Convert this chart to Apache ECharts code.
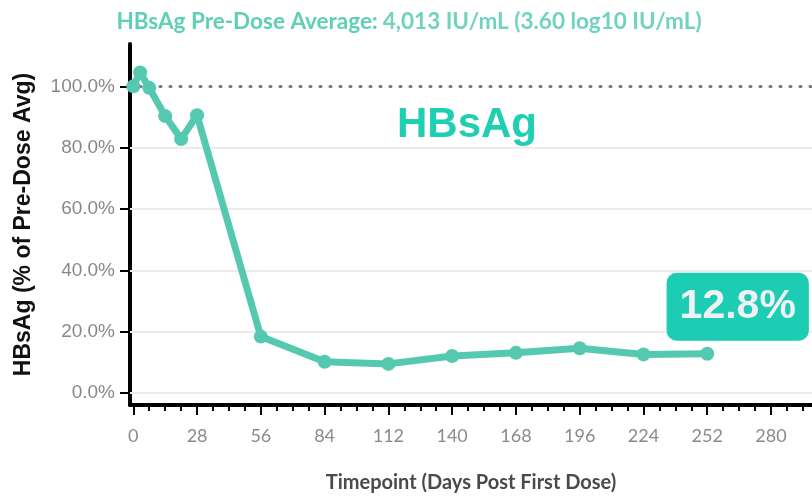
<!DOCTYPE html>
<html>
<head>
<meta charset="utf-8">
<script src="https://cdn.jsdelivr.net/npm/echarts@6/dist/echarts.min.js"></script>
<style>html,body{margin:0;padding:0;background:#fff}#c{width:812px;height:501px}</style>
</head>
<body>
<div id="c"></div>
<script>
// ---- data ----
var days = [0, 3, 7, 14, 21, 28, 56, 84, 112, 140, 168, 196, 224, 252];
var pctOfPreDose = [100, 104.5, 99.5, 90.3, 82.8, 90.6, 18.4, 10.2, 9.5, 12.1, 13.1, 14.6, 12.6, 12.8];
var xMajorTicks = [0, 28, 56, 84, 112, 140, 168, 196, 224, 252, 280];
var xMinorTicks = [7, 14, 21, 35, 42, 49, 63, 70, 77, 91, 98, 105, 119, 126, 133, 147, 154, 161, 175, 182, 189, 203, 210, 217, 231, 238, 245, 259, 266, 273, 287, 294];
var yTicks = [0, 20, 40, 60, 80, 100];
var gridValues = [0, 20, 40, 60, 80];
var baselineValue = 100;
var titleBold = 'HBsAg Pre-Dose Average:';
var titleRest = '4,013 IU/mL (3.60 log10 IU/mL)';
var seriesName = 'HBsAg';

var lineData = days.map(function (d, i) { return [d, pctOfPreDose[i]]; });
var lastIdx = days.length - 1;

var chart = echarts.init(document.getElementById('c'), null, { renderer: 'canvas' });
var teal = '#55c9b0';
var option = {
  animation: false,
  backgroundColor: '#fff',
  title: {
    text: '{b|' + titleBold + '} {n|' + titleRest + '}',
    left: 404, top: 5, textAlign: 'center',
    textStyle: {
      rich: {
        b: { fontFamily: 'Lato, Liberation Sans, sans-serif', fontWeight: 'bold', fontSize: 22.5, color: '#5fcfb6' },
        n: { fontFamily: 'Lato, Liberation Sans, sans-serif', fontSize: 22.5, color: '#6fd3bf' }
      }
    }
  },
  graphic: [{
    type: 'text', left: 397, top: 104,
    style: { text: seriesName, font: 'bold 42px "Liberation Sans", Arial, sans-serif', fill: '#1ecfb2' }
  }],
  grid: { left: 130, right: 0, top: 44, bottom: 96, containLabel: false },
  xAxis: [{
    type: 'value', min: -1.45, max: 298, position: 'bottom',
    name: 'Timepoint (Days Post First Dose)', nameLocation: 'middle', nameGap: 68,
    nameTextStyle: { fontFamily: 'Lato, Liberation Sans, sans-serif', fontSize: 20, color: '#4a4a4a', fontWeight: 'bold' },
    axisLine: { show: true, onZero: false, lineStyle: { color: '#000', width: 4 } },
    axisTick: { show: true, customValues: xMajorTicks, length: 10, lineStyle: { color: '#000', width: 2 } },
    axisLabel: { customValues: xMajorTicks, color: '#8a8a8a', fontSize: 18, margin: 22, fontFamily: 'Lato, Liberation Sans, sans-serif' },
    splitLine: { show: false }
  }, {
    type: 'value', min: -1.45, max: 298, position: 'bottom', gridIndex: 0,
    axisLine: { show: false, onZero: false },
    axisTick: { show: true, customValues: xMinorTicks, length: 6, lineStyle: { color: '#000', width: 2 } },
    axisLabel: { show: false },
    splitLine: { show: false }
  }],
  yAxis: {
    type: 'value', min: -3.9, max: 113.8,
    name: 'HBsAg (% of Pre-Dose Avg)', nameLocation: 'middle', nameGap: 95,
    nameTextStyle: { fontFamily: 'Liberation Sans, Arial, sans-serif', fontSize: 23, color: '#111', fontWeight: 'bold' },
    axisLine: { show: true, onZero: false, lineStyle: { color: '#000', width: 4 } },
    axisTick: { show: true, customValues: yTicks, length: 10, lineStyle: { color: '#000', width: 2 } },
    axisLabel: { customValues: yTicks, color: '#888', fontSize: 19, margin: 15, fontFamily: 'Liberation Sans, Arial, sans-serif',
      formatter: function (v) { return v.toFixed(1) + '%'; } },
    splitLine: { show: false }
  },
  series: [{
    type: 'line', data: [], z: 1, silent: true,
    markLine: {
      silent: true, symbol: 'none', label: { show: false },
      data: gridValues.map(function (v) { return { yAxis: v, lineStyle: { color: '#ececec', width: 2, type: 'solid' } }; })
        .concat([{ yAxis: baselineValue, lineStyle: { color: '#777', width: 3, type: [1, 9], cap: 'round' } }])
    }
  }, {
    name: seriesName, type: 'line', data: lineData, z: 5,
    lineStyle: { color: teal, width: 7 },
    itemStyle: { color: teal },
    symbol: 'circle', symbolSize: 14, showSymbol: true,
    markPoint: {
      symbol: 'circle', symbolSize: 0,
      data: [{
        coord: lineData[lastIdx],
        label: {
          show: true, position: 'inside', offset: [30.5, -47],
          formatter: pctOfPreDose[lastIdx].toFixed(1) + '%',
          backgroundColor: '#1ccdb3', borderRadius: 10,
          padding: [14, 13, 13, 13],
          color: '#eef1f5', fontSize: 41, fontWeight: 'bold',
          fontFamily: 'Liberation Sans, Arial, sans-serif'
        }
      }]
    }
  }]
};
chart.setOption(option);
</script>
</body>
</html>
